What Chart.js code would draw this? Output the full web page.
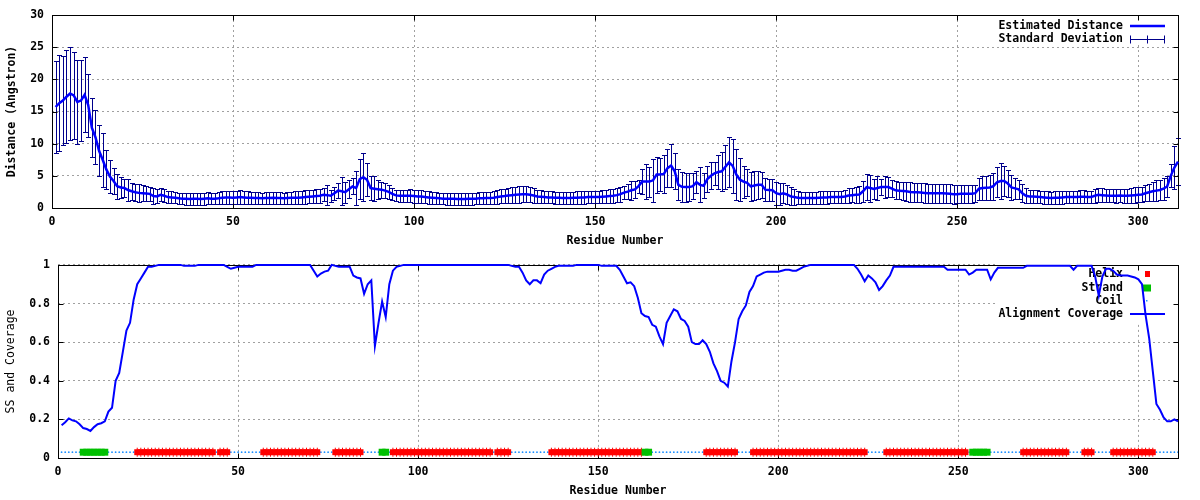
<!DOCTYPE html>
<html>
<head>
<meta charset="utf-8">
<script src="https://cdn.jsdelivr.net/npm/chart.js@4.4.0/dist/chart.umd.min.js"></script>
<style>
  html, body { margin: 0; padding: 0; background: #fff; }
  #wrap { position: relative; width: 1200px; height: 500px; }
  canvas { position: absolute; left: 0; }
  #distChart { top: 0; }
  #ssChart { top: 250px; }
</style>
</head>
<body>
<div id="wrap">
  <canvas id="distChart" width="1200" height="250"></canvas>
  <canvas id="ssChart" width="1200" height="250"></canvas>
</div>
<script>
// residue numbers along the x axis
const residues = Array.from({ length: 311 }, (_, i) => i + 1);
const xTicks = [0, 50, 100, 150, 200, 250, 300];
const distTicks = [0, 5, 10, 15, 20, 25, 30];
const covTicks = [0, 0.2, 0.4, 0.6, 0.8, 1];

// estimated distance (Angstrom) per residue
const distance = [
  15.7, 16.3, 16.7, 17.3, 17.8, 17.5, 16.5, 16.7, 17.6, 16.0,
  12.5, 11.0, 8.9, 7.5, 6.0, 4.9, 4.2, 3.4, 3.2, 3.1,
  2.8, 2.6, 2.45, 2.35, 2.3, 2.25, 2.2, 1.85, 1.8, 2.05,
  1.9, 1.7, 1.65, 1.6, 1.5, 1.45, 1.45, 1.4, 1.45, 1.45,
  1.4, 1.45, 1.5, 1.45, 1.45, 1.5, 1.6, 1.65, 1.65, 1.6,
  1.65, 1.7, 1.65, 1.6, 1.6, 1.55, 1.55, 1.5, 1.55, 1.55,
  1.6, 1.55, 1.55, 1.5, 1.55, 1.6, 1.6, 1.6, 1.65, 1.7,
  1.75, 1.8, 1.85, 1.9, 2.05, 2.0, 1.9, 2.3, 2.7, 2.6,
  2.45, 2.9, 3.35, 3.1, 4.5, 4.8, 4.4, 3.1, 3.0, 2.9,
  2.85, 2.7, 2.5, 2.2, 1.96, 1.9, 1.9, 1.9, 1.9, 1.85,
  1.8, 1.8, 1.7, 1.65, 1.6, 1.55, 1.5, 1.45, 1.45, 1.45,
  1.45, 1.4, 1.4, 1.4, 1.45, 1.45, 1.45, 1.5, 1.5, 1.55,
  1.55, 1.6, 1.7, 1.8, 1.85, 1.95, 2.0, 2.05, 2.1, 2.15,
  2.15, 2.05, 1.95, 1.8, 1.75, 1.7, 1.65, 1.65, 1.6, 1.6,
  1.55, 1.55, 1.55, 1.6, 1.6, 1.65, 1.65, 1.7, 1.7, 1.7,
  1.7, 1.75, 1.8, 1.85, 1.9, 2.0, 2.15, 2.4, 2.55, 2.75,
  2.9, 3.4, 4.1, 4.1, 4.1, 4.3, 5.2, 5.2, 5.3, 6.2,
  6.6, 5.7, 3.6, 3.3, 3.25, 3.25, 3.4, 4.0, 3.6, 3.45,
  4.5, 5.0, 5.4, 5.6, 5.7, 6.4, 7.1, 6.55, 5.2, 4.4,
  4.1, 3.9, 3.35, 3.5, 3.6, 3.6, 2.85, 2.8, 2.75, 2.3,
  2.15, 2.3, 2.1, 1.8, 1.7, 1.6, 1.55, 1.55, 1.55, 1.55,
  1.55, 1.6, 1.65, 1.65, 1.7, 1.7, 1.7, 1.7, 1.8, 1.95,
  2.0, 2.05, 2.1, 2.6, 3.25, 3.1, 2.95, 3.1, 3.25, 3.25,
  3.25, 3.0, 2.75, 2.7, 2.65, 2.6, 2.5, 2.45, 2.45, 2.4,
  2.35, 2.3, 2.3, 2.3, 2.3, 2.3, 2.25, 2.2, 2.15, 2.15,
  2.2, 2.2, 2.2, 2.2, 2.3, 3.0, 3.1, 3.15, 3.2, 3.4,
  4.0, 4.2, 4.2, 3.8, 3.2, 3.05, 2.9, 2.3, 1.9, 1.8,
  1.8, 1.75, 1.7, 1.65, 1.6, 1.55, 1.6, 1.6, 1.65, 1.7,
  1.7, 1.7, 1.7, 1.75, 1.75, 1.7, 1.7, 1.9, 2.05, 2.0,
  1.95, 1.9, 1.9, 1.9, 1.95, 1.9, 1.9, 1.95, 2.0, 2.06,
  2.1, 2.3, 2.45, 2.6, 2.7, 2.8, 3.0, 3.35, 5.0, 6.3, 7.2
];

// standard deviation per residue
const deviation = [
  7.2, 7.5, 6.9, 7.2, 7.2, 6.7, 6.5, 6.3, 5.8, 4.9,
  4.6, 4.2, 3.95, 4.2, 3.0, 2.5, 2.0, 1.95, 1.65, 1.45,
  1.7, 1.35, 1.3, 1.35, 1.2, 1.15, 1.05, 1.3, 1.1, 1.0,
  1.0, 0.95, 0.95, 0.9, 0.9, 0.9, 0.95, 0.9, 0.95, 0.95,
  0.9, 0.95, 0.95, 0.9, 0.9, 0.95, 1.0, 1.0, 1.05, 1.0,
  1.0, 1.05, 1.0, 1.0, 0.95, 0.95, 0.95, 0.9, 0.95, 0.95,
  0.95, 0.95, 0.9, 0.9, 0.95, 0.95, 1.0, 1.0, 1.0, 1.05,
  1.0, 1.0, 1.05, 1.1, 1.0, 1.6, 0.9, 1.0, 1.2, 2.2,
  1.65, 1.4, 1.25, 2.7, 3.1, 3.7, 2.6, 1.8, 1.9, 1.5,
  1.25, 1.15, 1.05, 0.95, 0.9, 0.95, 0.95, 0.95, 1.0, 1.0,
  1.0, 0.95, 0.95, 1.0, 0.95, 0.95, 0.9, 0.9, 0.95, 0.95,
  0.95, 0.9, 0.9, 0.95, 0.95, 0.95, 0.9, 0.95, 0.95, 1.0,
  1.0, 1.0, 1.05, 1.1, 1.15, 1.2, 1.25, 1.25, 1.25, 1.2,
  1.2, 1.15, 1.1, 1.05, 1.0, 1.0, 0.95, 0.95, 0.95, 0.95,
  0.95, 0.95, 0.95, 0.95, 1.0, 1.0, 1.0, 1.0, 1.0, 1.0,
  1.0, 1.0, 1.05, 1.05, 1.1, 1.1, 1.15, 0.95, 1.2, 1.45,
  1.3, 1.0, 2.0, 2.7, 2.35, 3.3, 2.8, 2.6, 2.9, 3.0,
  3.4, 2.8, 2.4, 2.3, 2.25, 2.15, 2.0, 1.7, 2.7, 1.95,
  2.0, 2.1, 1.8, 2.7, 3.0, 3.4, 3.9, 4.15, 3.9, 3.3,
  2.5, 2.1, 2.2, 2.2, 2.2, 2.0, 1.75, 1.75, 1.7, 1.8,
  1.7, 1.6, 1.5, 1.4, 1.2, 1.05, 1.0, 1.0, 1.0, 1.0,
  1.0, 1.0, 1.0, 1.0, 1.0, 1.0, 1.0, 1.0, 1.05, 1.1,
  1.1, 1.2, 1.3, 1.6, 2.0, 2.1, 1.6, 1.9, 1.3, 1.7,
  1.5, 1.3, 1.4, 1.3, 1.4, 1.5, 1.5, 1.5, 1.5, 1.5,
  1.5, 1.5, 1.5, 1.5, 1.5, 1.5, 1.5, 1.5, 1.5, 1.4,
  1.4, 1.4, 1.4, 1.4, 1.3, 1.7, 1.8, 1.9, 1.9, 2.1,
  2.3, 2.8, 2.4, 2.1, 1.9, 1.6, 1.5, 1.4, 1.2, 1.0,
  1.0, 1.0, 1.0, 1.0, 1.0, 1.0, 1.0, 1.0, 1.0, 1.0,
  1.0, 1.0, 1.0, 1.0, 1.0, 1.0, 1.0, 1.05, 1.1, 1.1,
  1.05, 1.0, 1.0, 1.05, 1.05, 1.05, 1.1, 1.1, 1.2, 1.2,
  1.2, 1.25, 1.3, 1.5, 1.6, 1.6, 1.7, 1.6, 1.8, 3.3, 3.7
];

// alignment coverage per residue
const coverage = [
  0.17, 0.185, 0.205, 0.195, 0.19, 0.175, 0.155, 0.15, 0.14, 0.16,
  0.175, 0.18, 0.19, 0.24, 0.26, 0.40, 0.44, 0.55, 0.66, 0.70,
  0.82, 0.90, 0.93, 0.96, 0.99, 0.99, 0.995, 1, 1, 1,
  1, 1, 1, 1, 0.995, 0.995, 0.995, 0.995, 1, 1,
  1, 1, 1, 1, 1, 1, 0.99, 0.98, 0.985, 0.99,
  0.99, 0.99, 0.99, 0.99, 1, 1, 1, 1, 1, 1,
  1, 1, 1, 1, 1, 1, 1, 1, 1, 1,
  0.97, 0.94, 0.955, 0.965, 0.97, 1, 0.995, 0.99, 0.99, 0.99,
  0.99, 0.945, 0.935, 0.93, 0.85, 0.90, 0.92, 0.58, 0.70, 0.81,
  0.73, 0.90, 0.97, 0.99, 0.995, 1, 1, 1, 1, 1,
  1, 1, 1, 1, 1, 1, 1, 1, 1, 1,
  1, 1, 1, 1, 1, 1, 1, 1, 1, 1,
  1, 1, 1, 1, 1, 0.995, 0.99, 0.99, 0.96, 0.92,
  0.90, 0.92, 0.92, 0.905, 0.95, 0.97, 0.98, 0.99, 0.995, 0.995,
  0.995, 0.995, 0.995, 1, 1, 1, 1, 1, 1, 1,
  0.995, 0.995, 0.995, 0.995, 0.995, 0.975, 0.94, 0.905, 0.91, 0.89,
  0.83, 0.75, 0.735, 0.73, 0.69, 0.68, 0.63, 0.59, 0.70, 0.735,
  0.77, 0.76, 0.72, 0.71, 0.68, 0.60, 0.59, 0.59, 0.61, 0.59,
  0.55, 0.49, 0.45, 0.40, 0.39, 0.37, 0.50, 0.60, 0.72, 0.76,
  0.79, 0.86, 0.89, 0.94, 0.95, 0.96, 0.965, 0.965, 0.965, 0.965,
  0.97, 0.975, 0.975, 0.97, 0.97, 0.98, 0.99, 0.995, 1, 1,
  1, 1, 1, 1, 1, 1, 1, 1, 1, 1,
  1, 0.98, 0.95, 0.915, 0.945, 0.93, 0.91, 0.87, 0.89, 0.92,
  0.945, 0.99, 0.99, 0.99, 0.99, 0.99, 0.99, 0.99, 0.99, 0.99,
  0.99, 0.99, 0.99, 0.99, 0.99, 0.99, 0.975, 0.975, 0.975, 0.975,
  0.975, 0.975, 0.95, 0.96, 0.975, 0.975, 0.975, 0.975, 0.925, 0.96,
  0.985, 0.985, 0.985, 0.985, 0.985, 0.985, 0.985, 0.985, 0.995, 0.995,
  0.995, 0.995, 0.995, 0.995, 0.995, 0.995, 0.995, 0.995, 0.995, 0.995,
  0.995, 0.975, 0.995, 0.995, 0.995, 0.995, 0.995, 0.94, 0.84, 0.94,
  0.98, 0.98, 0.97, 0.95, 0.945, 0.945, 0.945, 0.94, 0.935, 0.925,
  0.90, 0.74, 0.62, 0.45, 0.28, 0.25, 0.21, 0.19, 0.19, 0.20, 0.19
];

// secondary structure segments [first, last residue]; everything else is coil
const helixRanges = [[22, 43], [45, 47], [57, 72], [77, 84], [93, 120], [122, 125],
  [137, 162], [180, 188], [193, 224], [230, 252], [268, 280], [285, 287], [293, 304]];
const strandRanges = [[7, 13], [90, 91], [163, 164], [254, 258]];
const ssLevel = 0.03;

const inRanges = (r, ranges) => ranges.some(([a, b]) => r >= a && r <= b);
const helixPts = residues.filter(r => inRanges(r, helixRanges)).map(r => ({ x: r, y: ssLevel }));
const strandPts = residues.filter(r => inRanges(r, strandRanges)).map(r => ({ x: r, y: ssLevel }));
const coilPts = residues.filter(r => !inRanges(r, helixRanges) && !inRanges(r, strandRanges))
  .map(r => ({ x: r, y: ssLevel }));

const MONO = '"DejaVu Sans Mono", monospace';
const tickFont = { family: MONO, size: 11.5, weight: 'bold' };
const BLUE = '#0000ff';
const NAVY = '#00008b';
const GRID = '#a0a0a0';

const px = v => Math.round(v) + 0.5;

// frame, inward tics, key and (optional) error bars, gnuplot style
function makeFrame(cfg) {
  return {
    id: 'frame',
    beforeDatasetsDraw(chart) {
      const { ctx, chartArea: a, scales: { x, y } } = chart;
      ctx.save();
      const [kx, ky, kw, kh] = cfg.keyBox;
      ctx.fillStyle = '#fff';
      ctx.fillRect(kx, ky, kw, kh);

      if (cfg.errors) {
        const { mid, dev } = cfg.errors;
        ctx.strokeStyle = NAVY;
        ctx.lineWidth = 1;
        ctx.beginPath();
        residues.forEach((r, i) => {
          const xp = px(x.getPixelForValue(r));
          const yt = px(y.getPixelForValue(mid[i] + dev[i]));
          const yb = px(y.getPixelForValue(Math.max(mid[i] - dev[i], 0)));
          ctx.moveTo(xp, yt); ctx.lineTo(xp, yb);
          ctx.moveTo(xp - 2.5, yt); ctx.lineTo(xp + 2.5, yt);
          ctx.moveTo(xp - 2.5, yb); ctx.lineTo(xp + 2.5, yb);
        });
        ctx.stroke();
      }

      ctx.strokeStyle = '#000';
      ctx.lineWidth = 1;
      const L = px(a.left), R = px(a.right), T = px(a.top), B = px(a.bottom);
      ctx.strokeRect(L, T, R - L, B - T);
      ctx.beginPath();
      x.ticks.forEach(t => {
        const p = px(x.getPixelForValue(t.value));
        ctx.moveTo(p, B); ctx.lineTo(p, B - 5);
        ctx.moveTo(p, T); ctx.lineTo(p, T + 5);
      });
      y.ticks.forEach(t => {
        const p = px(y.getPixelForValue(t.value));
        ctx.moveTo(L, p); ctx.lineTo(L + 5, p);
        ctx.moveTo(R, p); ctx.lineTo(R - 5, p);
      });
      ctx.stroke();

      ctx.font = 'bold 11.5px ' + MONO;
      ctx.textAlign = 'right';
      ctx.textBaseline = 'middle';
      cfg.keys.forEach(k => {
        ctx.fillStyle = '#000';
        ctx.fillText(k.text, 1123, k.y);
        k.sample(ctx, k.y);
      });
      ctx.restore();
    }
  };
}

function lineSample(color, width) {
  return (ctx, y) => {
    ctx.strokeStyle = color;
    ctx.lineWidth = width;
    ctx.beginPath();
    ctx.moveTo(1130, y); ctx.lineTo(1165, y);
    ctx.stroke();
  };
}

function axisCommon(ticks, fitKey, fitVal, pad, titleText, titleFont, titlePad) {
  return {
    type: 'linear',
    min: ticks[0],
    max: ticks === xTicks ? 311 : ticks[ticks.length - 1],
    afterBuildTicks: s => { s.ticks = ticks.map(v => ({ value: v })); },
    afterFit: s => { s[fitKey] = fitVal; },
    grid: { color: GRID, drawTicks: false, lineWidth: 1 },
    border: { display: false, dash: [2, 3] },
    ticks: { font: tickFont, color: '#000', padding: pad, autoSkip: false, maxRotation: 0,
      callback: v => String(v) },
    title: { display: true, text: titleText, color: '#000', font: titleFont, padding: titlePad }
  };
}

const baseOptions = (padTop) => ({
  responsive: false,
  animation: false,
  devicePixelRatio: 1,
  layout: { padding: { top: padTop, right: 22, left: 0, bottom: 0 } },
  plugins: { legend: { display: false }, tooltip: { enabled: false } },
  elements: { line: { tension: 0 } }
});

// top panel: estimated distance with standard deviation
const distOpts = baseOptions(15);
distOpts.scales = {
  x: axisCommon(xTicks, 'height', 42, 7, 'Residue Number', tickFont, { top: 0, bottom: 2 }),
  y: axisCommon(distTicks, 'width', 52, 8, 'Distance (Angstron)', tickFont, { top: 5, bottom: 0 })
};
new Chart(document.getElementById('distChart'), {
  type: 'line',
  data: {
    datasets: [{
      label: 'Estimated Distance',
      data: residues.map((r, i) => ({ x: r, y: distance[i] })),
      borderColor: BLUE,
      borderWidth: 2.5,
      pointRadius: 0,
      clip: false
    }]
  },
  options: distOpts,
  plugins: [makeFrame({
    keyBox: [993, 16, 183, 28],
    errors: { mid: distance, dev: deviation },
    keys: [
      { text: 'Estimated Distance', y: 26, sample: lineSample(BLUE, 2.5) },
      { text: 'Standard Deviation', y: 39, sample: (ctx, y) => {
        ctx.strokeStyle = NAVY; ctx.lineWidth = 1;
        const yy = px(y);
        ctx.beginPath();
        ctx.moveTo(1130, yy); ctx.lineTo(1165, yy);
        [1130.5, 1147.5, 1164.5].forEach(xx => { ctx.moveTo(xx, yy - 4); ctx.lineTo(xx, yy + 4); });
        ctx.stroke();
      } }
    ]
  })]
});

// bottom panel: secondary structure and alignment coverage
const ssOpts = baseOptions(13);
ssOpts.scales = {
  x: axisCommon(xTicks, 'height', 42, 7, 'Residue Number', tickFont, { top: 0, bottom: 2 }),
  y: axisCommon(covTicks, 'width', 58, 8, 'SS and Coverage', { family: MONO, size: 11.5 }, { top: 4, bottom: 0 })
};
new Chart(document.getElementById('ssChart'), {
  type: 'line',
  data: {
    datasets: [
      { label: 'Alignment Coverage', data: residues.map((r, i) => ({ x: r, y: coverage[i] })),
        borderColor: BLUE, borderWidth: 2, pointRadius: 0, order: 0, clip: false },
      { label: 'Strand', data: strandPts, showLine: false, pointStyle: 'rect', pointRadius: 4.9,
        pointBackgroundColor: '#00c000', pointBorderWidth: 0, order: 1 },
      { label: 'Helix', data: helixPts, showLine: false, pointStyle: 'rect', pointRadius: 4.2,
        pointBackgroundColor: '#ff0000', pointBorderWidth: 0, order: 2 },
      { label: 'Helix tics', data: helixPts, showLine: false, pointStyle: 'line', pointRotation: 90,
        pointRadius: 4.5, pointBorderColor: '#ff0000', pointBorderWidth: 1, order: 3 },
      { label: 'Coil', data: coilPts, showLine: false, pointStyle: 'circle', pointRadius: 0.9,
        pointBackgroundColor: '#1e90ff', pointBorderWidth: 0, order: 4 }
    ]
  },
  options: ssOpts,
  plugins: [makeFrame({
    keyBox: [996, 14, 180, 58],
    keys: [
      { text: 'Helix', y: 24, sample: (ctx, y) => { ctx.fillStyle = '#ff0000'; ctx.fillRect(1145, y - 3, 5, 6); } },
      { text: 'Strand', y: 38, sample: (ctx, y) => { ctx.fillStyle = '#00c000'; ctx.fillRect(1143, y - 3.5, 8, 7); } },
      { text: 'Coil', y: 51, sample: (ctx, y) => { ctx.fillStyle = '#1e90ff'; ctx.fillRect(1146, y - 1, 1.5, 1.5); } },
      { text: 'Alignment Coverage', y: 64, sample: lineSample(BLUE, 2) }
    ]
  })]
});
</script>
</body>
</html>
